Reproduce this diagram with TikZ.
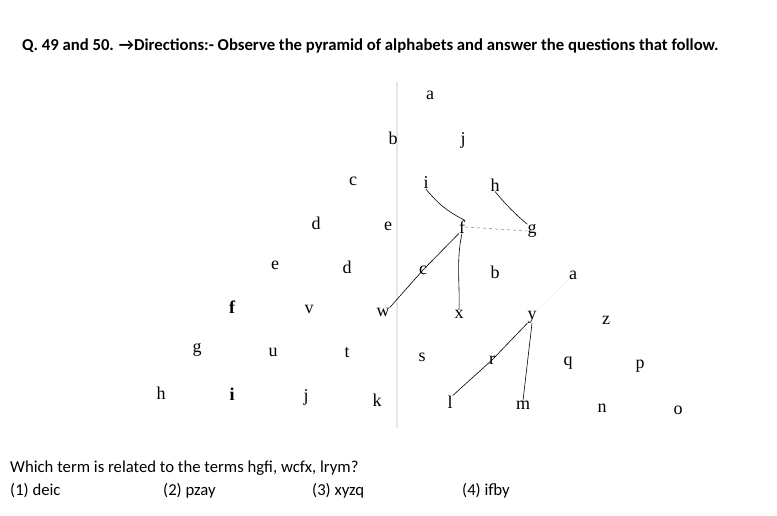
\documentclass[tikz,border=0pt]{standalone}
\usepackage{fontspec}
\newfontfamily\calibri{Carlito}
\newfontfamily\scanfont{Liberation Serif}
\usetikzlibrary{calc}
\definecolor{paleGreen}{RGB}{222,238,222}

\begin{document}
\begin{tikzpicture}[x=1pt, y=-1pt,
    letter/.style={inner sep=0pt, font=\scanfont\fontsize{18}{18}\selectfont},
    link/.style={line width=0.6pt, black},
    txt/.style={anchor=base west, inner sep=0pt, font=\calibri\fontsize{16.7}{19}\selectfont}]
    \useasboundingbox (0,0) rectangle (777,516);

    % Question heading
    \node[txt, font=\calibri\bfseries\fontsize{16.7}{19}\selectfont] (title) at (22,51)
        {Q. 49 and 50. →Directions:- Observe the pyramid of alphabets and answer the questions that follow.};

    % Pale fold line of the scan
    \coordinate (F0) at (397,82);
    \coordinate (F1) at (397,428);
    \draw[paleGreen, line width=2.5pt] (F0) -- (F1);

    % Pyramid of letters
    \foreach \n/\x/\y/\t in {a1/430/95/a, b1/393/138/b, j1/463/140/j,
        c1/353/181/c, i1/426/183/i, h1/495/185/h,
        d1/316/223/d, e1/388/226/e, f1/462/227/f, g1/532/231/g,
        e2/275/265/e, d2/347/267/d, c2/423/270/c, b2/495/272/b, a2/573/275/a,
        v1/309/309/v, w1/383/312/w, x1/459/314/x, y1/532/317/y, z1/606/320/z,
        g2/197/350/g, u1/273/352/u, t1/347/353/t, s1/422/357/s, r1/492/360/r, q1/568/363/q, p1/640/366/p,
        h2/161/393/h, j2/306/397/j, k1/377/400/k, l1/450/402/l, m1/523/405/m, n1/602/408/n, o1/678/410/o}
        \node[letter] (\n) at (\x,\y) {\t};
    \node[letter, font=\scanfont\bfseries\fontsize{18}{18}\selectfont] (f2) at (232,307) {f};
    \node[letter, font=\scanfont\bfseries\fontsize{18}{18}\selectfont] (i2) at (232,394) {i};

    % Hand-drawn joins
    \draw[link] (i1.south) to[bend right=12] (f1.north east);
    \draw[link] (h1.south) to[bend right=5] (g1.north west);
    \draw[link, gray, dashed, line width=0.5pt] (f1.east) -- (g1.west);
    \draw[link] (w1.north east) -- (c2.center) -- (f1.south west);
    \draw[link] (f1.south) .. controls (456,260) and (460,285) .. (x1.north);
    \draw[link] (l1.north east) -- (r1.center) -- (y1.south west);
    \draw[link] (y1.south) -- (m1.north);
    \draw[gray!40, densely dotted] (a2.south west) -- (y1.north east);

    % Question and options
    \node[txt] (ques) at (10,472) {Which term is related to the terms hgfi, wcfx, lrym?};
    \node[txt] (opt1) at (10,495) {(1) deic};
    \node[txt] (opt2) at (163,495) {(2) pzay};
    \node[txt] (opt3) at (312,495) {(3) xyzq};
    \node[txt] (opt4) at (462,495) {(4) ifby};
\end{tikzpicture}
\end{document}
